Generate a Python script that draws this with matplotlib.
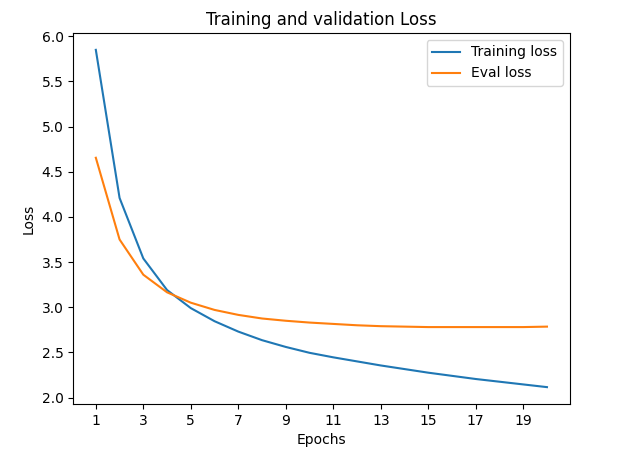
import matplotlib
matplotlib.use('Agg')
import matplotlib.pyplot as plt

# ---- data ----
epochs = list(range(1, 21))
train_loss = [5.85, 4.21, 3.54, 3.19, 2.99, 2.845, 2.73, 2.635, 2.56, 2.495,
              2.445, 2.40, 2.355, 2.315, 2.275, 2.24, 2.205, 2.175, 2.145, 2.115]
eval_loss = [4.655, 3.75, 3.36, 3.165, 3.05, 2.97, 2.915, 2.875, 2.85, 2.83,
             2.815, 2.80, 2.79, 2.785, 2.78, 2.78, 2.78, 2.78, 2.78, 2.785]
xtick_vals = list(range(1, 21, 2))

plt.figure(figsize=(6.3, 4.55), dpi=100)
plt.subplots_adjust(left=0.1163, right=0.904, top=0.9275, bottom=0.1121)
plt.plot(epochs, train_loss, label='Training loss')
plt.plot(epochs, eval_loss, label='Eval loss')
plt.title('Training and validation Loss')
plt.xlabel('Epochs')
plt.ylabel('Loss')
plt.xticks(xtick_vals)
plt.legend()
plt.savefig('out.png')
